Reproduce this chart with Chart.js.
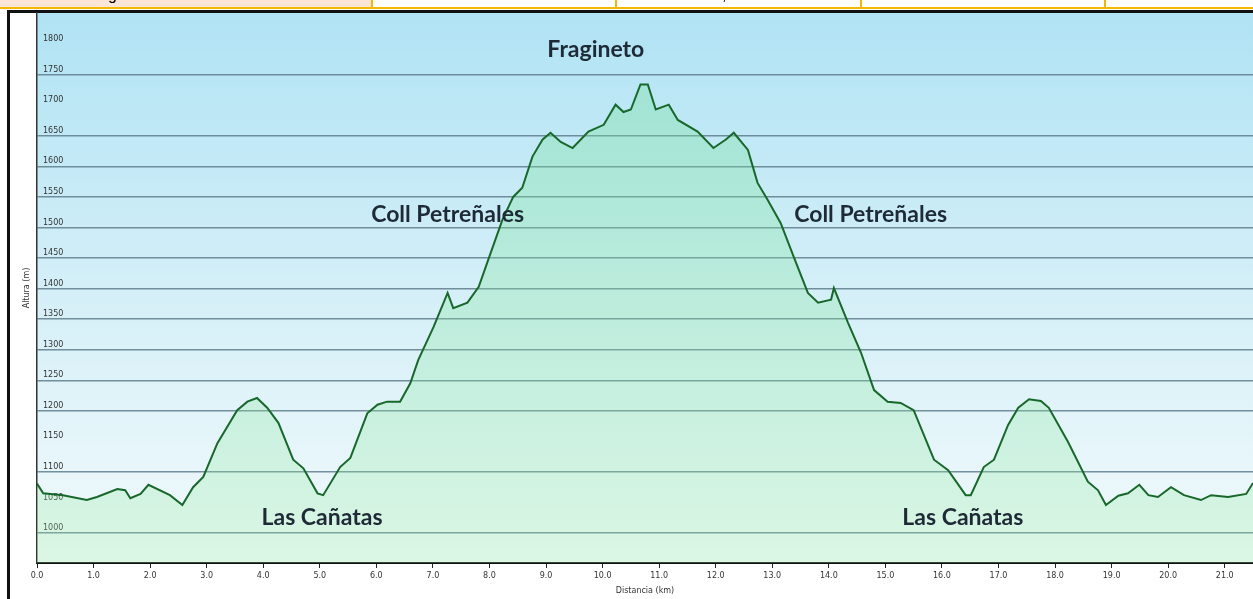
<!DOCTYPE html>
<html>
<head>
<meta charset="utf-8">
<title>Perfil Fragineto</title>
<script src="https://cdn.jsdelivr.net/npm/chart.js@4.4.1/dist/chart.umd.min.js"></script>
<style>
body{margin:0;background:#fff;}
canvas{display:block;}
</style>
</head>
<body>
<canvas id="profileChart" width="1253" height="599"></canvas>
<script>

// DATA

const distKm = [0.00,0.11,0.46,0.88,1.06,1.42,1.56,1.65,1.83,1.97,2.35,2.57,2.76,2.94,3.19,3.54,3.72,3.89,4.07,4.27,4.53,4.71,4.96,5.06,5.36,5.54,5.84,6.02,6.19,6.42,6.60,6.74,7.01,7.26,7.36,7.61,7.81,8.02,8.23,8.42,8.58,8.76,8.94,9.08,9.26,9.47,9.75,10.02,10.23,10.37,10.50,10.67,10.80,10.94,11.17,11.33,11.68,11.96,12.18,12.32,12.57,12.74,12.92,13.15,13.38,13.63,13.81,14.04,14.09,14.34,14.57,14.80,15.04,15.27,15.50,15.86,16.11,16.42,16.51,16.74,16.92,17.17,17.35,17.54,17.75,17.89,18.23,18.58,18.76,18.90,19.12,19.29,19.49,19.65,19.82,20.05,20.28,20.58,20.76,21.06,21.38,21.50];

const altM = [1081,1065,1062,1054,1059,1072,1070,1057,1064,1079,1062,1046,1075,1092,1147,1201,1215,1221,1205,1180,1120,1106,1065,1062,1108,1123,1196,1210,1215,1215,1245,1283,1337,1393,1368,1377,1403,1458,1513,1550,1565,1616,1644,1655,1640,1630,1657,1668,1701,1689,1693,1734,1734,1693,1701,1676,1657,1630,1644,1655,1627,1573,1545,1507,1452,1393,1377,1382,1401,1344,1295,1234,1215,1213,1201,1120,1103,1062,1062,1108,1120,1177,1205,1219,1216,1205,1149,1084,1070,1046,1061,1065,1079,1062,1059,1075,1062,1054,1062,1059,1064,1082];

const yTicks = [1000,1050,1100,1150,1200,1250,1300,1350,1400,1450,1500,1550,1600,1650,1700,1750,1800];
const xTicks = [0,1,2,3,4,5,6,7,8,9,10,11,12,13,14,15,16,17,18,19,20,21];
const hiddenGrid = [1050,1150,1700,1800];

const placeNames = ["Fragineto","Coll Petreñales","Coll Petreñales","Las Cañatas","Las Cañatas"];

// PAGE FRAME AND BACKGROUND

const framePlugin = {
id:"frame",
beforeDraw(chart){
const ctx = chart.ctx;
const a = chart.chartArea;

ctx.save();
ctx.fillStyle = "#fff";
ctx.fillRect(0,0,chart.width,chart.height);

// table row cut at the top
ctx.fillStyle = "#fbe5d6";
ctx.fillRect(0,0,372,8);
ctx.fillStyle = "#f5b800";
ctx.fillRect(0,7,chart.width,2);
[372,616,861,1105].forEach(function(x){
ctx.fillRect(x-1,0,2,8);
});
ctx.fillStyle = "#000";
ctx.font = "16px 'Liberation Sans'";
ctx.fillText("g",108,0);
ctx.fillText(",",722,0);

// black frame
ctx.fillStyle = "#111";
ctx.fillRect(7,10,chart.width-7,3);
ctx.fillRect(7,10,3,chart.height-10);

// plot background
let g = ctx.createLinearGradient(0,a.top,0,a.bottom);
g.addColorStop(0,"#b0e3f4");
g.addColorStop(0.5,"#d4eff8");
g.addColorStop(1,"#f2fafb");
ctx.fillStyle = g;
ctx.fillRect(a.left,a.top,a.right-a.left,a.bottom-a.top);
ctx.restore();
},
afterDatasetsDraw(chart){
const ctx = chart.ctx;
const xs = chart.scales.x;
const ys = chart.scales.y;
const namePos = [[9.88,1791],[7.26,1521],[14.74,1521],[5.04,1025],[16.37,1025]];

ctx.save();
ctx.fillStyle = "#1e2a36";
ctx.font = "bold 23px Lato";
ctx.textAlign = "center";
ctx.textBaseline = "middle";
placeNames.forEach(function(name,i){
ctx.fillText(name,xs.getPixelForValue(namePos[i][0]),ys.getPixelForValue(namePos[i][1]));
});
ctx.restore();
}
};

// ELEVATION PROFILE

new Chart(
document.getElementById("profileChart"),
{
type:"line",
data:{
datasets:[{
data:distKm.map(function(d,i){ return {x:d,y:altM[i]}; }),
borderColor:"#17682a",
borderWidth:2,
pointRadius:0,
tension:0,
fill:"start",
backgroundColor:function(c){
const a = c.chart.chartArea;
if(!a){ return "rgba(120,220,140,0.3)"; }
let g = c.chart.ctx.createLinearGradient(0,a.top,0,a.bottom);
g.addColorStop(0,"rgba(110,220,150,0.36)");
g.addColorStop(1,"rgba(150,235,160,0.25)");
return g;
}
}]
},
options:{
responsive:false,
animation:false,
layout:{padding:{top:13,left:0,right:0,bottom:0}},
plugins:{
legend:{display:false},
tooltip:{enabled:false}
},
scales:{
x:{
type:"linear",
min:0,
max:21.5,
afterBuildTicks:function(s){ s.ticks = xTicks.map(function(v){ return {value:v}; }); },
afterFit:function(s){ s.height = 36; },
grid:{drawOnChartArea:false,drawTicks:true,tickLength:5,color:"#222"},
border:{display:true,color:"#111",width:2},
ticks:{
maxRotation:0,
autoSkip:false,
padding:3,
color:"#333",
font:{family:"'DejaVu Sans'",size:8},
callback:function(v){ return Number(v).toFixed(1); }
},
title:{
display:true,
text:"Distancia (km)",
color:"#333",
font:{family:"'DejaVu Sans'",size:8},
padding:{top:0,bottom:3}
}
},
y:{
min:951,
max:1851,
afterBuildTicks:function(s){ s.ticks = yTicks.map(function(v){ return {value:v}; }); },
afterFit:function(s){ s.width = 37; },
grid:{
drawTicks:false,
lineWidth:1.5,
color:function(c){
if(c.tick && hiddenGrid.indexOf(c.tick.value) >= 0){ return "rgba(0,0,0,0)"; }
return "rgba(95,125,140,0.85)";
}
},
border:{display:true,color:"#333",width:1.5},
ticks:{
mirror:true,
padding:6,
labelOffset:-5,
color:"#333",
font:{family:"'DejaVu Sans'",size:8},
callback:function(v){ return String(v); }
},
title:{
display:true,
text:"Altura (m)",
color:"#333",
font:{family:"'DejaVu Sans'",size:8},
padding:{top:22,bottom:0}
}
}
}
},
plugins:[framePlugin]
}
);

</script>
</body>
</html>
